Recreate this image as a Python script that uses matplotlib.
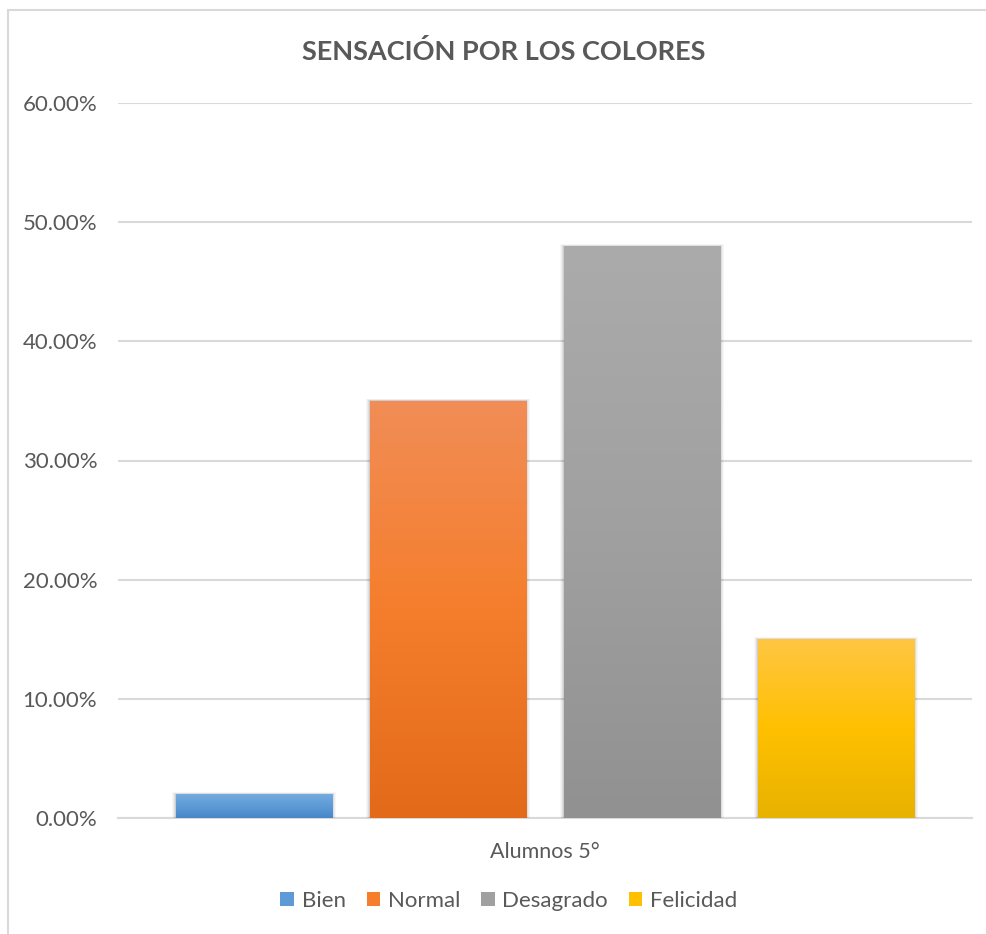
import matplotlib
matplotlib.use("Agg")
import matplotlib.pyplot as plt
import numpy as np
from matplotlib.colors import LinearSegmentedColormap
from matplotlib.patches import Rectangle, Patch

plt.rcParams['font.family'] = ['Lato', 'DejaVu Sans']

# ---- data ----
title = "SENSACIÓN POR LOS COLORES"
category = "Alumnos 5°"
series = ["Bien", "Normal", "Desagrado", "Felicidad"]
values = [0.02, 0.35, 0.48, 0.15]
yticks = [0.0, 0.1, 0.2, 0.3, 0.4, 0.5, 0.6]

# gradient stops (top, middle, bottom)
grads = [
    ("#74abdf", "#5d9ad6", "#4787c9"),
    ("#f18d57", "#f57e2c", "#e26a18"),
    ("#ababab", "#a0a0a0", "#919191"),
    ("#ffc643", "#ffc000", "#e8b200"),
]

W, H = 987, 934
fig = plt.figure(figsize=(W / 100, H / 100), dpi=100)
fig.patch.set_facecolor("white")

# outer chart frame (left and top edges visible)
fig.add_artist(Rectangle((8 / W, -0.1), 1.2, 1 - 10 / H + 0.1, transform=fig.transFigure,
                         fill=False, edgecolor="#d9d9d9", linewidth=1.5))

left, right, bottom, top = 118, 972, 818, 103
ax = fig.add_axes([left / W, 1 - bottom / H, (right - left) / W, (bottom - top) / H])
ax.set_xlim(-0.5, 0.5)
ax.set_ylim(0, 0.6)

width = 0.1827
step = 0.2272
n = len(series)
offsets = [(i - (n - 1) / 2) * step for i in range(n)]

handles = []
for i, (name, v, g) in enumerate(zip(series, values, grads)):
    x0 = offsets[i] - width / 2
    # soft shadow
    for k, a in [(4, 0.03), (3, 0.04), (2, 0.06), (1, 0.08)]:
        dx = k * 1.0 / (right - left)
        dy = k * 0.5 / (bottom - top) * 0.6
        ax.add_patch(Rectangle((x0 - dx, 0), width + 2 * dx, v + dy, facecolor="black",
                               edgecolor="none", alpha=a, zorder=2))
    bars = ax.bar(offsets[i], v, width=width, color=g[1], zorder=3, label=name)
    patch = bars.patches[0]
    cmap = LinearSegmentedColormap.from_list(name, [g[2], g[1], g[0]])
    grad = np.linspace(0, 1, 256).reshape(-1, 1)
    im = ax.imshow(grad, cmap=cmap, aspect="auto", origin="lower",
                   extent=[x0, x0 + width, 0, v], zorder=4, interpolation="bilinear")
    im.set_clip_path(patch)
    handles.append(Patch(facecolor=g[1], edgecolor="none", label=name))

ax.set_xlim(-0.5, 0.5)
ax.set_ylim(0, 0.6)

ax.set_yticks(yticks)
ax.set_yticklabels([f"{t * 100:.2f}%" for t in yticks])
ax.set_xticks([0])
ax.set_xticklabels([category])
ax.tick_params(axis="y", length=0, labelsize=16, colors="#595959", pad=15)
ax.tick_params(axis="x", length=0, labelsize=15.5, colors="#595959", pad=17)
ax.grid(axis="y", color="#d9d9d9", linewidth=1.5, zorder=0)
ax.set_axisbelow(True)
for s in ["top", "right", "left"]:
    ax.spines[s].set_visible(False)
ax.spines["bottom"].set_color("#d9d9d9")
ax.spines["bottom"].set_linewidth(1.5)
ax.spines["bottom"].set_zorder(1)

fig.text(504 / W, 1 - 52 / H, title, ha="center", va="center", fontsize=19.5,
         fontweight="bold", color="#595959")

fig.legend(handles=handles, loc="center", bbox_to_anchor=(509 / W, 1 - 901 / H), ncol=4,
           frameon=False, fontsize=16, labelcolor="#595959", handlelength=0.6,
           handleheight=0.6, handletextpad=0.35, columnspacing=0.95)

fig.savefig("out.png", dpi=100)
